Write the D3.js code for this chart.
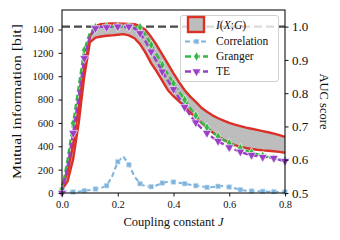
<!DOCTYPE html>
<html>
<head>
<meta charset="utf-8">
<script src="https://cdn.jsdelivr.net/npm/d3@7"></script>
<style>
  body { margin: 0; background: #fff; }
  svg text { font-family: "Liberation Serif", "Times New Roman", serif; fill: #111; }
</style>
</head>
<body>
<div id="container"></div>
<script>
// coupling constant J, step 0.02
let couplingJ = d3.range(41).map(i => +(i * 0.02).toFixed(2));

// mutual information band [bit], left axis
let miUpper = [60, 180, 420, 740, 1080, 1340, 1430, 1445, 1450, 1452, 1452, 1450, 1448, 1445, 1430, 1395,
  1335, 1265, 1185, 1105, 1025, 950, 880, 825, 780, 730, 695, 665, 640, 620, 600, 585, 572, 560, 550, 540,
  530, 520, 508, 495, 480];
let miLower = [30, 100, 290, 600, 1000, 1290, 1330, 1340, 1346, 1350, 1355, 1360, 1350, 1325, 1275, 1200,
  1110, 1040, 960, 880, 830, 785, 740, 690, 645, 600, 560, 520, 485, 455, 430, 410, 395, 385, 377, 370,
  365, 362, 358, 352, 345];

// AUC scores, right axis
let aucCorrelation = [0.51, 0.505, 0.503, 0.504, 0.507, 0.509, 0.512, 0.515, 0.522, 0.55, 0.594, 0.61, 0.585,
  0.55, 0.528, 0.52, 0.519, 0.523, 0.53, 0.534, 0.533, 0.531, 0.528, 0.525, 0.522, 0.52, 0.517, 0.518, 0.52,
  0.521, 0.518, 0.514, 0.51, 0.507, 0.506, 0.505, 0.505, 0.504, 0.504, 0.503, 0.503];
let aucGranger = [0.51, 0.6, 0.71, 0.82, 0.93, 0.982, 0.998, 1.0, 1.0, 1.0, 1.0, 1.0, 1.0, 1.0, 0.998, 0.975,
  0.945, 0.915, 0.885, 0.857, 0.83, 0.805, 0.78, 0.755, 0.733, 0.713, 0.697, 0.682, 0.67, 0.659, 0.65, 0.642,
  0.635, 0.628, 0.622, 0.617, 0.612, 0.608, 0.604, 0.601, 0.598];
let aucTE = [0.5, 0.58, 0.68, 0.79, 0.905, 0.97, 0.995, 1.0, 0.998, 1.0, 1.0, 0.998, 1.0, 0.995, 0.98, 0.955,
  0.925, 0.895, 0.865, 0.838, 0.812, 0.785, 0.758, 0.733, 0.712, 0.695, 0.68, 0.667, 0.656, 0.646, 0.637,
  0.63, 0.624, 0.618, 0.614, 0.611, 0.608, 0.607, 0.605, 0.6, 0.596];

let xTicks = [0, 0.2, 0.4, 0.6, 0.8];
let miTicks = [0, 200, 400, 600, 800, 1000, 1200, 1400];
let aucTicks = [0.5, 0.6, 0.7, 0.8, 0.9, 1.0];
let legendLabels = ["Correlation", "Granger", "TE"];

let width = 340, height = 240;
let plotL = 62, plotR = 285, plotT = 10, plotB = 193;

let svg = d3.select('#container').append('svg')
  .attr('width', width).attr('height', height);

let x = d3.scaleLinear().domain([0, 0.8]).range([plotL, plotR]);
let yMI = d3.scaleLinear().domain([0, 1567]).range([plotB, plotT]);
let yAUC = d3.scaleLinear().domain([0.5, 1.05]).range([plotB, plotT]);

let red = '#dc2f26', grey = '#bdbdbd';
let cBlue = '#7db3dc', cGreen = '#35b848', cPurple = '#9a3fc6';

// reference dashed line at AUC = 1
svg.append('line')
  .attr('x1', plotL).attr('x2', plotR)
  .attr('y1', yAUC(1.0)).attr('y2', yAUC(1.0))
  .attr('stroke', '#484848').attr('stroke-width', 2.2)
  .attr('stroke-dasharray', '8,4');

// MI band
let band = couplingJ.map((j, i) => ({ j: j, lo: miLower[i], hi: miUpper[i] }));
svg.append('path').datum(band)
  .attr('fill', grey)
  .attr('d', d3.area().x(d => x(d.j)).y0(d => yMI(d.lo)).y1(d => yMI(d.hi)));
[miUpper, miLower].forEach(arr => {
  svg.append('path').datum(arr)
    .attr('fill', 'none').attr('stroke', red).attr('stroke-width', 2.4)
    .attr('stroke-linejoin', 'round')
    .attr('d', d3.line().x((d, i) => x(couplingJ[i])).y(d => yMI(d)));
});

// marker shapes
let sq = d3.symbol().type(d3.symbolSquare).size(22);
let dia = d3.symbol().type(d3.symbolDiamond).size(26);
let tri = d3.symbol().type(d3.symbolTriangle).size(34);

function series(values, color, dash, lw, sym, rot, edge) {
  let g = svg.append('g');
  g.append('path').datum(values)
    .attr('fill', 'none').attr('stroke', color).attr('stroke-width', lw)
    .attr('stroke-dasharray', dash)
    .attr('d', d3.line().x((d, i) => x(couplingJ[i])).y(d => yAUC(d)));
  g.selectAll('path.m').data(values.filter((d, i) => i % 2 == 0))
    .enter().append('path').attr('class', 'm')
    .attr('d', sym)
    .attr('transform', (d, i) => 'translate(' + x(couplingJ[i * 2]) + ',' + yAUC(d) + ') rotate(' + rot + ')')
    .attr('fill', color).attr('stroke', edge).attr('stroke-width', 0.6);
}
series(aucCorrelation, cBlue, '5,3', 2.0, sq, 0, '#cfe3f2');
series(aucGranger, cGreen, '6,3', 2.4, dia, 0, '#ffffff');
series(aucTE, cPurple, '6,3', 2.4, tri, 180, '#ffffff');

// axes
let fmt0 = d3.format('d'), fmt1 = d3.format('.1f');
let axL = svg.append('g').attr('transform', 'translate(' + plotL + ',0)')
  .call(d3.axisLeft(yMI).tickValues(miTicks).tickFormat(fmt0).tickSize(3.5).tickPadding(5));
let axR = svg.append('g').attr('transform', 'translate(' + plotR + ',0)')
  .call(d3.axisRight(yAUC).tickValues(aucTicks).tickFormat(fmt1).tickSize(3.5).tickPadding(3.5));
let axB = svg.append('g').attr('transform', 'translate(0,' + plotB + ')')
  .call(d3.axisBottom(x).tickValues(xTicks).tickFormat(fmt1).tickSize(3.5).tickPadding(4));
[axL, axB].forEach(a => {
  a.select('.domain').remove();
  a.selectAll('text').attr('font-size', 10.5).style('font-family', '"Liberation Serif", serif');
  a.selectAll('line').attr('stroke', '#111').attr('stroke-width', 1);
});
axR.select('.domain').remove();
axR.selectAll('text').attr('font-size', 13).style('font-family', '"Liberation Serif", serif');
axR.selectAll('line').attr('stroke', '#111').attr('stroke-width', 1);

// frame
svg.append('rect')
  .attr('x', plotL).attr('y', plotT).attr('width', plotR - plotL).attr('height', plotB - plotT)
  .attr('fill', 'none').attr('stroke', '#111').attr('stroke-width', 1.1);

// labels
svg.append('text')
  .attr('transform', 'translate(21,' + (plotT + plotB) / 2 + ') rotate(-90)')
  .attr('text-anchor', 'middle').attr('font-size', 12.5)
  .attr('textLength', 155).attr('lengthAdjust', 'spacingAndGlyphs')
  .text('Mutual information [bit]');
svg.append('text')
  .attr('transform', 'translate(320,' + (plotT + plotB) / 2 + ') rotate(90)')
  .attr('text-anchor', 'middle').attr('font-size', 12.5)
  .text('AUC score');
let xl = svg.append('text')
  .attr('x', (plotL + plotR) / 2).attr('y', 226)
  .attr('text-anchor', 'middle').attr('font-size', 12.5);
xl.append('tspan').text('Coupling constant ');
xl.append('tspan').attr('font-style', 'italic').text('J');

// legend
let lg = svg.append('g');
lg.append('rect')
  .attr('x', 180.5).attr('y', 15.5).attr('width', 98).attr('height', 66).attr('rx', 2.5)
  .attr('fill', '#fff').attr('fill-opacity', 0.8).attr('stroke', '#d0d0d0').attr('stroke-width', 1);
lg.append('rect')
  .attr('x', 188).attr('y', 17).attr('width', 16).attr('height', 15)
  .attr('fill', grey).attr('stroke', red).attr('stroke-width', 2.4);
let t0 = lg.append('text').attr('x', 216).attr('y', 28.5).attr('font-size', 11.5);
t0.append('tspan').attr('font-style', 'italic').text('I');
t0.append('tspan').text('(');
t0.append('tspan').attr('font-style', 'italic').text('X');
t0.append('tspan').text(';');
t0.append('tspan').attr('font-style', 'italic').text('G');
t0.append('tspan').text(')');

let legendStyle = [
  { c: cBlue, dash: '5,3', lw: 2.0, sym: sq, rot: 0, edge: '#cfe3f2' },
  { c: cGreen, dash: '6,3', lw: 2.4, sym: dia, rot: 0, edge: '#fff' },
  { c: cPurple, dash: '6,3', lw: 2.4, sym: tri, rot: 180, edge: '#fff' }
];
legendLabels.forEach((lab, i) => {
  let yy = 41.5 + i * 15;
  let s = legendStyle[i];
  lg.append('line').attr('x1', 185).attr('x2', 208).attr('y1', yy).attr('y2', yy)
    .attr('stroke', s.c).attr('stroke-width', s.lw).attr('stroke-dasharray', s.dash);
  lg.append('path').attr('d', s.sym)
    .attr('transform', 'translate(196.5,' + yy + ') rotate(' + s.rot + ')')
    .attr('fill', s.c).attr('stroke', s.edge).attr('stroke-width', 0.6);
  lg.append('text').attr('x', 216).attr('y', yy + 3.5).attr('font-size', 11.5).text(lab);
});
</script>
</body>
</html>
